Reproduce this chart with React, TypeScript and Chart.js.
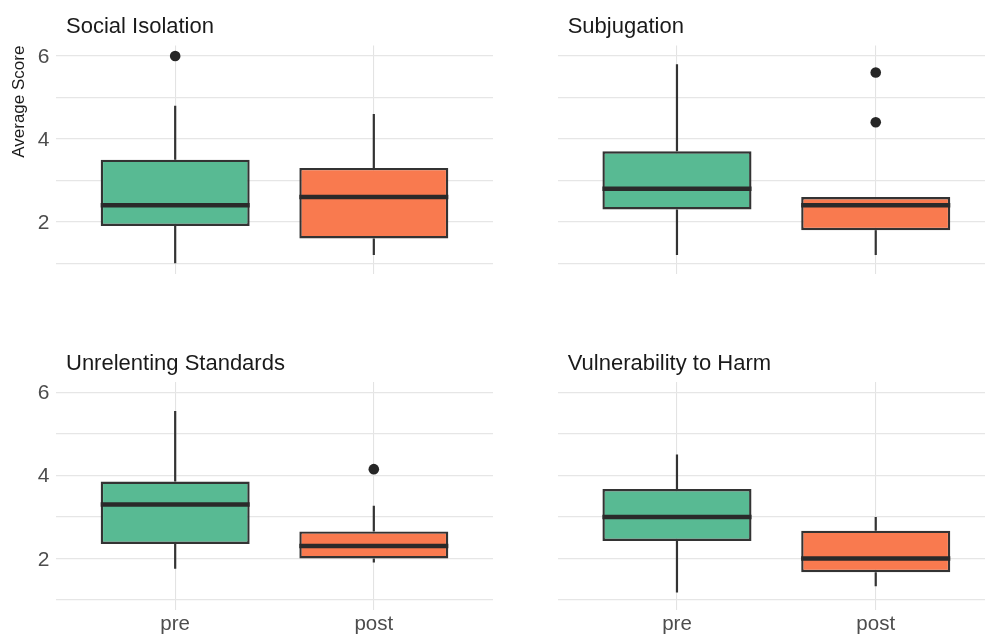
import React, { useEffect, useRef } from 'react';
import { Chart, registerables } from 'chart.js';

Chart.register(...registerables);

// ---- data ----
const GROUPS = ['pre', 'post'];
const GROUP_POS = [1, 2];
const Y_TICKS = [1, 2, 3, 4, 5, 6];
const Y_LABELED = [2, 4, 6];
const Y_TITLE = 'Average Score';
const PANEL_TITLES = ['Social Isolation', 'Subjugation', 'Unrelenting Standards', 'Vulnerability to Harm'];

// five-number summaries: lower whisker, Q1, median, Q3, upper whisker
const SOCIAL_PRE = [1.0, 1.9, 2.4, 3.5, 4.8];
const SOCIAL_POST = [1.2, 1.6, 2.6, 3.3, 4.6];
const SOCIAL_OUT_PRE = [6.0];
const SOCIAL_OUT_POST: number[] = [];

const SUBJ_PRE = [1.2, 2.3, 2.8, 3.7, 5.8];
const SUBJ_POST = [1.2, 1.8, 2.4, 2.6, 2.6];
const SUBJ_OUT_PRE: number[] = [];
const SUBJ_OUT_POST = [5.6, 4.4];

const UNREL_PRE = [1.75, 2.35, 3.3, 3.85, 5.55];
const UNREL_POST = [1.9, 2.0, 2.3, 2.65, 3.27];
const UNREL_OUT_PRE: number[] = [];
const UNREL_OUT_POST = [4.15];

const VULN_PRE = [1.18, 2.42, 3.0, 3.67, 4.5];
const VULN_POST = [1.33, 1.67, 2.0, 2.67, 3.0];
const VULN_OUT_PRE: number[] = [];
const VULN_OUT_POST: number[] = [];

// ---- styles ----
const FONT = '"Liberation Sans", Arial, Helvetica, sans-serif';
const GREEN = '#58BA93';
const ORANGE = '#F97A4F';
const DARK = '#333333';
const POINT = '#262626';

const LAYOUT = [
  { left: 0, top: 0, width: 500, height: 300, axisW: 56, padTop: 45.6, padRight: 7, padBottom: 26.3, axisH: 0, showY: true, showX: false, yTitle: true },
  { left: 500, top: 0, width: 510, height: 300, axisW: 57.7, padTop: 45.6, padRight: 15, padBottom: 26.3, axisH: 0, showY: false, showX: false, yTitle: false },
  { left: 0, top: 320, width: 500, height: 324, axisW: 56, padTop: 61.9, padRight: 7, padBottom: 0, axisH: 33.6, showY: true, showX: true, yTitle: false },
  { left: 500, top: 320, width: 510, height: 324, axisW: 57.7, padTop: 61.9, padRight: 15, padBottom: 0, axisH: 33.6, showY: false, showX: true, yTitle: false },
];

const PANEL_DATA = [
  { stats: [SOCIAL_PRE, SOCIAL_POST], out: [SOCIAL_OUT_PRE, SOCIAL_OUT_POST] },
  { stats: [SUBJ_PRE, SUBJ_POST], out: [SUBJ_OUT_PRE, SUBJ_OUT_POST] },
  { stats: [UNREL_PRE, UNREL_POST], out: [UNREL_OUT_PRE, UNREL_OUT_POST] },
  { stats: [VULN_PRE, VULN_POST], out: [VULN_OUT_PRE, VULN_OUT_POST] },
];

const boxPlugin = {
  id: 'boxplot',
  beforeDatasetsDraw(chart: any, _args: any, opts: any) {
    const { ctx } = chart;
    const xs = chart.scales.x;
    const ys = chart.scales.y;
    ctx.save();
    ctx.strokeStyle = DARK;
    ctx.lineWidth = 2.2;
    opts.stats.forEach((s: number[], i: number) => {
      const px = xs.getPixelForValue(GROUP_POS[i]);
      ctx.beginPath();
      ctx.moveTo(px, ys.getPixelForValue(s[3]));
      ctx.lineTo(px, ys.getPixelForValue(s[4]));
      ctx.moveTo(px, ys.getPixelForValue(s[1]));
      ctx.lineTo(px, ys.getPixelForValue(s[0]));
      ctx.stroke();
    });
    ctx.restore();
  },
  afterDatasetsDraw(chart: any, _args: any, opts: any) {
    const { ctx, chartArea } = chart;
    const ys = chart.scales.y;
    const meta = chart.getDatasetMeta(0);
    ctx.save();
    ctx.strokeStyle = '#2a2a2a';
    ctx.lineWidth = 4.5;
    opts.stats.forEach((s: number[], i: number) => {
      const bar = meta.data[i];
      if (!bar) return;
      const { x, width } = bar.getProps(['x', 'width'], true);
      const py = ys.getPixelForValue(s[2]);
      ctx.beginPath();
      ctx.moveTo(x - width / 2, py);
      ctx.lineTo(x + width / 2, py);
      ctx.stroke();
    });
    ctx.fillStyle = '#1a1a1a';
    ctx.font = `22px ${FONT}`;
    ctx.textAlign = 'left';
    ctx.textBaseline = 'alphabetic';
    ctx.fillText(opts.title, chartArea.left + 10, chartArea.top - 12.2);
    ctx.restore();
  },
};

function Panel({ index }: { index: number }) {
  const ref = useRef<HTMLCanvasElement>(null);
  const g = LAYOUT[index];
  const d = PANEL_DATA[index];
  useEffect(() => {
    if (!ref.current) return;
    const outliers: { x: number; y: number }[] = [];
    d.out.forEach((arr, i) => arr.forEach((v) => outliers.push({ x: GROUP_POS[i], y: v })));
    const chart = new Chart(ref.current, {
      type: 'bar',
      data: {
        datasets: [
          {
            type: 'bar',
            data: d.stats.map((s, i) => ({ x: GROUP_POS[i], y: [s[1], s[3]] })) as any,
            backgroundColor: [GREEN, ORANGE],
            borderColor: DARK,
            borderWidth: 2.4,
            borderSkipped: false,
            barPercentage: 0.75,
            categoryPercentage: 1,
          } as any,
          {
            type: 'scatter',
            data: outliers,
            pointRadius: 5.3,
            pointBackgroundColor: POINT,
            pointBorderWidth: 0,
            pointBorderColor: POINT,
          } as any,
        ],
      },
      plugins: [boxPlugin as any],
      options: {
        animation: false,
        responsive: false,
        maintainAspectRatio: false,
        devicePixelRatio: 1,
        events: [],
        layout: { padding: { left: 0, top: g.padTop, right: g.padRight, bottom: g.padBottom } },
        plugins: {
          legend: { display: false },
          tooltip: { enabled: false },
          boxplot: { stats: d.stats, title: PANEL_TITLES[index] },
        } as any,
        scales: {
          x: {
            type: 'linear',
            min: 0.4,
            max: 2.6,
            offset: false,
            afterBuildTicks: (s: any) => {
              s.ticks = GROUP_POS.map((v) => ({ value: v }));
            },
            afterFit: (s: any) => {
              s.height = g.axisH;
            },
            grid: { color: '#e3e3e3', lineWidth: 1.1, drawTicks: false, offset: false },
            border: { display: false },
            ticks: {
              display: g.showX,
              autoSkip: false,
              padding: 1.5,
              color: '#4d4d4d',
              font: { family: FONT, size: 20.5 },
              callback: (v: any) => GROUPS[GROUP_POS.indexOf(Number(v))] ?? '',
            },
          },
          y: {
            type: 'linear',
            min: 0.75,
            max: 6.25,
            afterBuildTicks: (s: any) => {
              s.ticks = Y_TICKS.map((v) => ({ value: v }));
            },
            afterFit: (s: any) => {
              s.width = g.axisW;
            },
            grid: { color: '#e6e6e6', lineWidth: 1.3, drawTicks: false },
            border: { display: false },
            title: {
              display: g.yTitle,
              text: Y_TITLE,
              align: 'end',
              color: '#1a1a1a',
              font: { family: FONT, size: 17 },
              padding: { top: 9, bottom: 0 },
            },
            ticks: {
              display: g.showY,
              autoSkip: false,
              padding: 6.5,
              labelOffset: 1.3,
              color: '#4d4d4d',
              font: { family: FONT, size: 21 },
              callback: (v: any) => (Y_LABELED.includes(Number(v)) ? String(v) : ''),
            },
          },
        },
      } as any,
    });
    return () => chart.destroy();
  }, [index]);
  return (
    <canvas
      ref={ref}
      width={g.width}
      height={g.height}
      style={{ position: 'absolute', left: g.left, top: g.top, width: g.width, height: g.height, display: 'block' }}
    />
  );
}

export default function App() {
  return (
    <div
      style={{
        position: 'fixed',
        left: 0,
        top: 0,
        width: 985,
        height: 644,
        overflow: 'hidden',
        background: '#ffffff',
      }}
    >
      {LAYOUT.map((_, i) => (
        <Panel key={i} index={i} />
      ))}
    </div>
  );
}
